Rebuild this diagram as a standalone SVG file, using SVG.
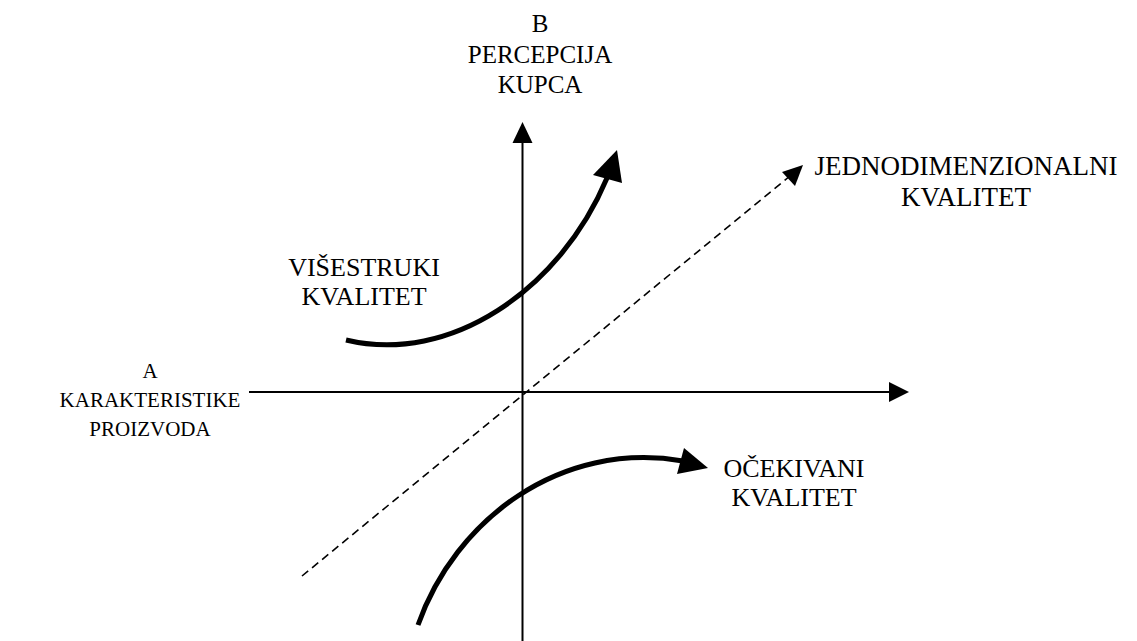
<svg xmlns="http://www.w3.org/2000/svg" width="1137" height="641" viewBox="0 0 1137 641">
<style>
text{font-family:"Liberation Serif","Times New Roman",serif;fill:#000;text-anchor:middle}
.axis{stroke:#000;stroke-width:2;fill:none}
.curve{stroke:#000;stroke-width:5;fill:none}
.dash{stroke:#000;stroke-width:1.6;fill:none;stroke-dasharray:8,5}
.head{fill:#000;stroke:none}
</style>
<rect width="1137" height="641" fill="#fff"/>
<g id="connectors">
<line class="axis" x1="522.5" y1="641" x2="522.5" y2="140"/>
<polygon class="head" points="522.5,122 512.5,143 532.5,143"/>
<line class="axis" x1="249" y1="392" x2="892" y2="392"/>
<polygon class="head" points="909,392 889,382 889,402"/>
<line class="dash" x1="302" y1="576" x2="790" y2="176"/>
<polygon class="head" points="803,165 782,172 795,186"/>
<path class="curve" d="M346,340 C450,365 560,290 607,178"/>
<polygon class="head" points="617,150 593,175 622,183"/>
<path class="curve" d="M418,625 C455,520 560,440 683,461"/>
<polygon class="head" points="708,468 684,448 677,474"/>
</g>
<g id="node-b" font-size="25">
<text x="540" y="32">B</text>
<text x="540" y="63">PERCEPCIJA</text>
<text x="540" y="93">KUPCA</text>
</g>
<g id="node-jednodimenzionalni" font-size="27">
<text x="966" y="175">JEDNODIMENZIONALNI</text>
<text x="966" y="206">KVALITET</text>
</g>
<g id="node-visestruki" font-size="26">
<text x="364" y="276">VIŠESTRUKI</text>
<text x="364" y="305">KVALITET</text>
</g>
<g id="node-a" font-size="21">
<text x="150" y="378">A</text>
<text x="150" y="407">KARAKTERISTIKE</text>
<text x="150" y="436">PROIZVODA</text>
</g>
<g id="node-ocekivani" font-size="26">
<text x="794" y="477">OČEKIVANI</text>
<text x="794" y="506">KVALITET</text>
</g>
</svg>
